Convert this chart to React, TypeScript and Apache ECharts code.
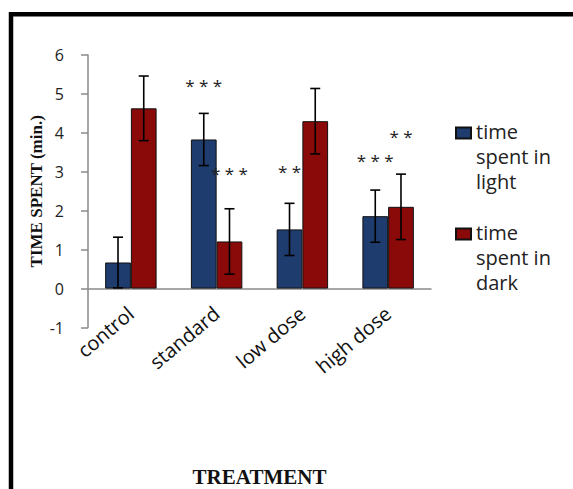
import React, { useEffect, useRef } from "react";
import * as echarts from "echarts";

const categories = ["control", "standard", "low dose", "high dose"];
const lightMean = [0.67, 3.83, 1.52, 1.86];
const lightErr = [0.65, 0.67, 0.67, 0.67];
const darkMean = [4.63, 1.21, 4.3, 2.1];
const darkErr = [0.83, 0.84, 0.84, 0.84];
const lightStars = ["", "***", "**", "***"];
const lightStarY = [0, 5.31, 3.12, 3.38];
const darkStars = ["", "***", "", "**"];
const darkStarY = [0, 3.07, 0, 4.0];
const seriesNames = ["time\nspent in\nlight", "time\nspent in\ndark"];

const BLUE = "#1f3c6e";
const RED = "#8a0a0a";
const GRAY = "#8a8a8a";
const SANS = "'Open Sans', sans-serif";
const SERIF = "'Liberation Serif', 'Times New Roman', serif";

function errorSeries(mean: number[], err: number[], side: number) {
  return {
    type: "custom",
    silent: true,
    z: 5,
    data: mean.map((m, i) => [i, m, err[i]]),
    renderItem: (params: any, api: any) => {
      const i = api.value(0);
      const v = api.value(1);
      const e = api.value(2);
      const band = api.size([1, 0])[0];
      const top = api.coord([i, v + e]);
      const bot = api.coord([i, v - e]);
      const x = top[0] + side * band * 0.15;
      const st = { stroke: "#000", lineWidth: 1.6 };
      return {
        type: "group",
        children: [
          { type: "line", shape: { x1: x, y1: top[1], x2: x, y2: bot[1] }, style: st },
          { type: "line", shape: { x1: x - 5, y1: top[1], x2: x + 5, y2: top[1] }, style: st },
          { type: "line", shape: { x1: x - 5, y1: bot[1], x2: x + 5, y2: bot[1] }, style: st },
        ],
      };
    },
  };
}

function starSeries(stars: string[], ys: number[], side: number) {
  const items = stars
    .map((s, i) => ({ s, i, y: ys[i] }))
    .filter((d) => d.s !== "");
  return {
    type: "custom",
    silent: true,
    z: 6,
    data: items.map((d) => [d.i, d.y]),
    renderItem: (params: any, api: any) => {
      const band = api.size([1, 0])[0];
      const p = api.coord([api.value(0), api.value(1)]);
      const x = p[0] + side * band * 0.15;
      return {
        type: "text",
        x,
        y: p[1] + 4,
        style: {
          text: items[params.dataIndex].s.split("").join(" "),
          fontFamily: SANS,
          fontSize: 17,
          fill: "#222",
          align: "center",
          verticalAlign: "middle",
        },
      };
    },
  };
}

export default function App() {
  const ref = useRef<HTMLDivElement>(null);
  useEffect(() => {
    if (!ref.current) return;
    const chart = echarts.init(ref.current, null, { renderer: "svg" });
    const iconPath = "path://M0 0M15 75M0 9H15V20H0Z";
    chart.setOption({
      animation: false,
      backgroundColor: "#fff",
      graphic: [
        {
          type: "rect",
          shape: { x: 11, y: 14.3, width: 620, height: 540 },
          style: { fill: "none", stroke: "#000", lineWidth: 4.5 },
          z: 10,
        },
      ],
      legend: {
        orient: "vertical",
        left: 455,
        top: 117.5,
        padding: 0,
        itemGap: 24,
        itemWidth: 15,
        itemHeight: 75,
        selectedMode: false,
        data: [
          { name: seriesNames[0], icon: iconPath },
          { name: seriesNames[1], icon: iconPath },
        ],
        textStyle: { fontFamily: SANS, fontSize: 20, lineHeight: 25, color: "#222" },
      },
      grid: {
        left: 88,
        top: 55,
        width: 343,
        height: 272.5,
        containLabel: false,
        outerBoundsMode: "none",
      },
      xAxis: {
        type: "category",
        data: categories,
        name: "TREATMENT",
        nameLocation: "middle",
        nameGap: 139,
        nameMoveOverlap: false,
        nameTextStyle: { fontFamily: SERIF, fontWeight: "bold", fontSize: 21, color: "#111", verticalAlign: "top" },
        axisLine: { onZero: true, lineStyle: { color: GRAY, width: 1.5 } },
        axisTick: { show: false },
        axisLabel: {
          rotate: 40,
          margin: -17,
          align: "right",
          verticalAlign: "middle",
          fontFamily: SANS,
          fontSize: 20,
          color: "#111",
        },
      },
      yAxis: {
        type: "value",
        min: -1,
        max: 6,
        interval: 1,
        name: "TIME SPENT (min.)",
        nameLocation: "middle",
        nameRotate: 90,
        nameGap: 43,
        nameMoveOverlap: false,
        nameTextStyle: { fontFamily: SERIF, fontWeight: "bold", fontSize: 17, color: "#111" },
        axisLine: { show: true, lineStyle: { color: GRAY, width: 1.5 } },
        axisTick: { show: true, inside: false, length: 7, lineStyle: { color: GRAY, width: 1.5 } },
        splitLine: { show: false },
        axisLabel: { margin: 24, fontFamily: SANS, fontSize: 16, color: "#222" },
      },
      series: [
        {
          name: seriesNames[0],
          type: "bar",
          data: lightMean,
          barGap: "0%",
          barCategoryGap: "40%",
          itemStyle: { color: BLUE, borderColor: "#111", borderWidth: 1 },
        },
        {
          name: seriesNames[1],
          type: "bar",
          data: darkMean,
          barGap: "0%",
          barCategoryGap: "40%",
          itemStyle: { color: RED, borderColor: "#111", borderWidth: 1 },
        },
        errorSeries(lightMean, lightErr, -1),
        errorSeries(darkMean, darkErr, 1),
        starSeries(lightStars, lightStarY, -1),
        starSeries(darkStars, darkStarY, 1),
      ],
    });
    return () => chart.dispose();
  }, []);
  return (
    <div
      ref={ref}
      style={{ position: "fixed", left: 0, top: 0, width: 573, height: 489, background: "#fff" }}
    />
  );
}
